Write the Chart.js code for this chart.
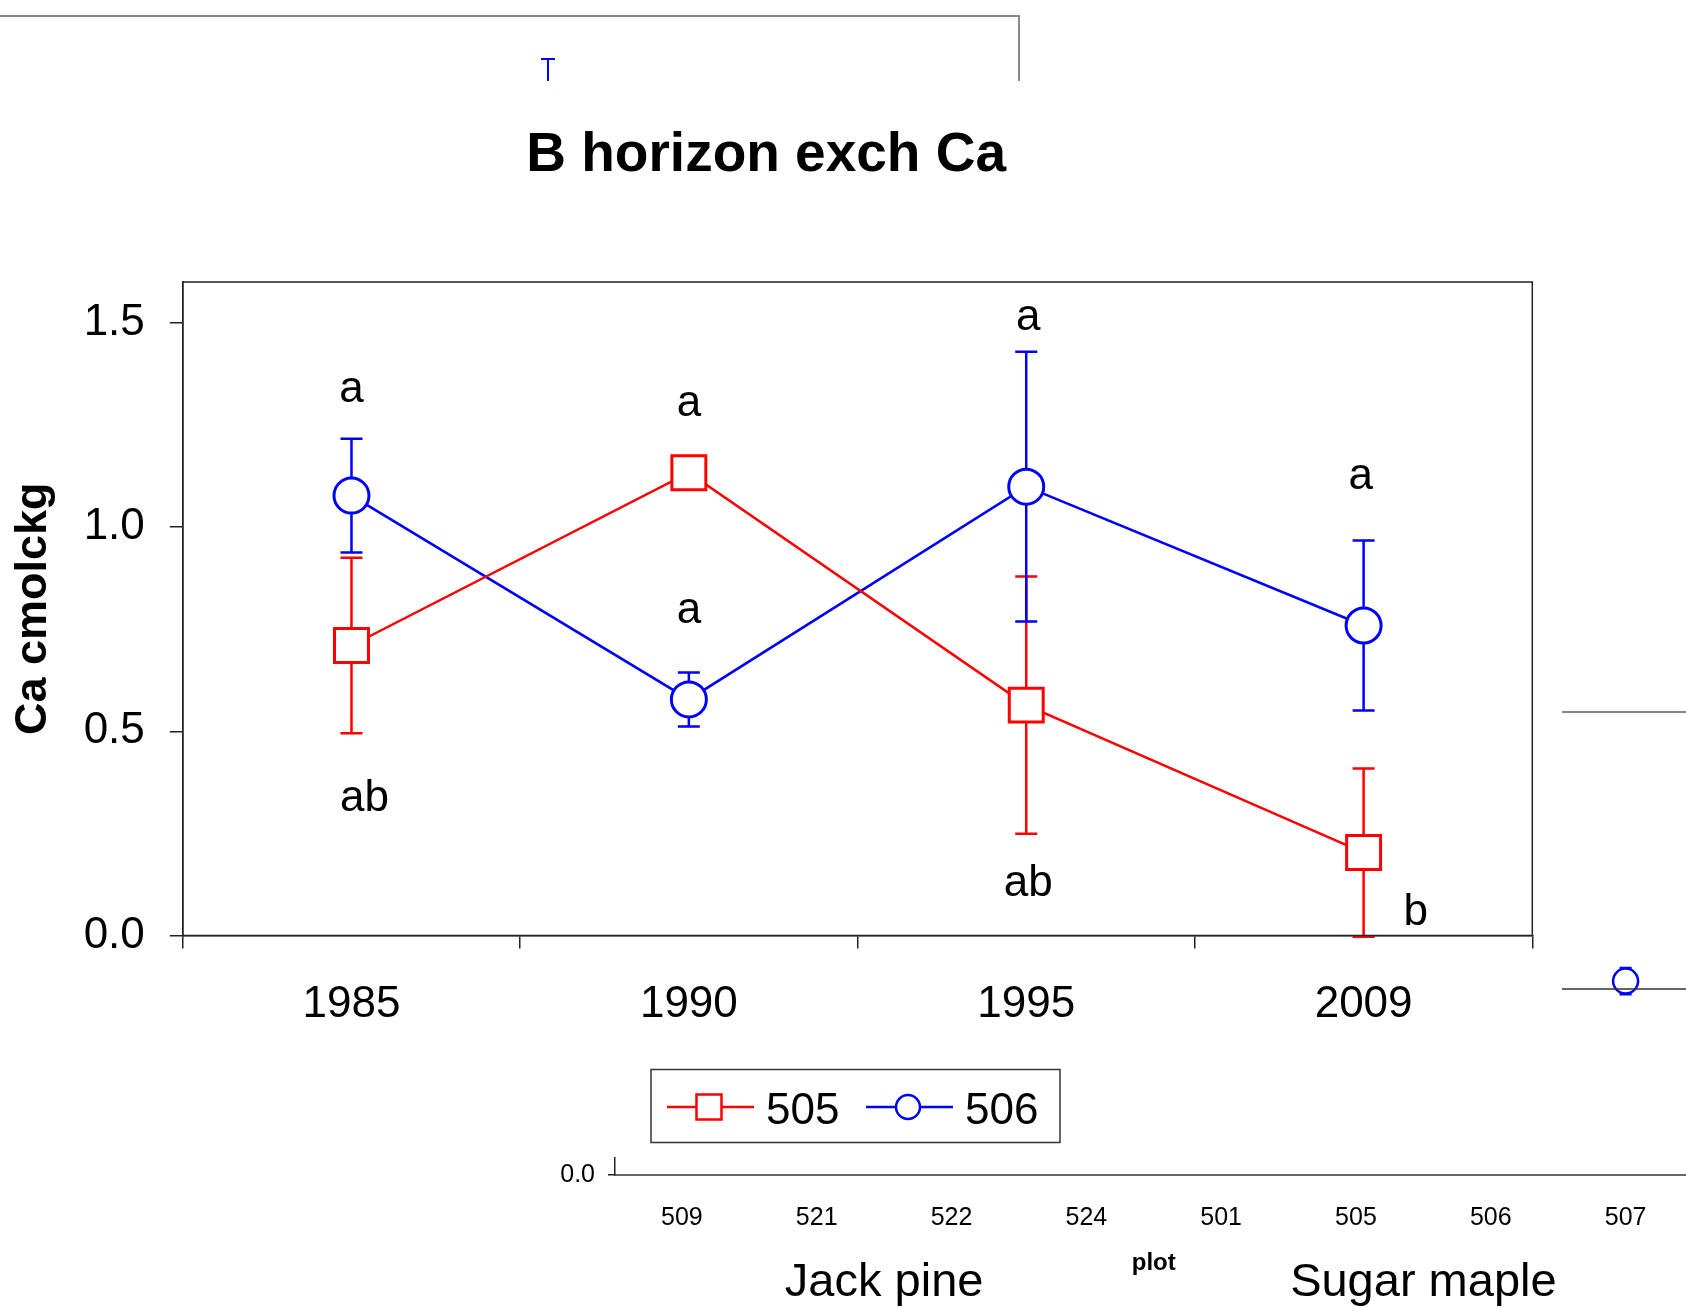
<!DOCTYPE html>
<html>
<head>
<meta charset="utf-8">
<script src="https://cdn.jsdelivr.net/npm/chart.js@4.4.1/dist/chart.umd.min.js"></script>
<style>
  html, body { margin: 0; padding: 0; background: #fff; overflow: hidden; }
  #wrap { position: relative; width: 1686px; height: 1308px; overflow: hidden; }
  #back, #main { position: absolute; left: 0; top: 0; }
</style>
</head>
<body>
<div id="wrap">
  <canvas id="back" width="1708" height="1308"></canvas>
  <canvas id="main" width="1686" height="1308"></canvas>
</div>
<script>
// B horizon exchangeable Ca, plots 505 and 506 (mean +/- error)
const years = ['1985', '1990', '1995', '2009'];
const ca505 = [0.710, 1.133, 0.564, 0.203];
const err505 = [0.215, 0.03, 0.315, 0.206];
const ca506 = [1.077, 0.578, 1.099, 0.759];
const err506 = [0.139, 0.066, 0.330, 0.208];
const yTicks = [0, 0.5, 1.0, 1.5];

// significance letters: year, text, value at the text baseline
const letterYears = ['1985', '1985', '1990', '1990', '1995', '1995', '2009', '2009'];
const letterTexts = ['a', 'ab', 'a', 'a', 'a', 'ab', 'a', 'b'];
const letterValues = [1.305, 0.306, 1.271, 0.765, 1.483, 0.096, 1.092, 0.026];

// figure lying underneath, only partly visible
const plotIds = ['509', '521', '522', '524', '501', '505', '506', '507'];
const forestTypes = ['Jack pine', 'Sugar maple'];
const behind506 = [null, null, null, null, null, null, null, 0.670];
const behindErr506 = [null, null, null, null, null, null, null, 0.045];
const behindTicks = [0, 0.5, 1.0, 1.5];

const FONT = '"Liberation Sans", Arial, Helvetica, sans-serif';
const RED = '#ff0000';
const BLUE = '#0000ff';
const AXIS = '#222';

Chart.defaults.font.family = FONT;
Chart.defaults.color = '#000';

// horizontal offsets of the letters, px
const letterDx = [0, 13, 0, 0, 2, 2, -3, 52];

// error bars behind the markers
const errorBars = {
  id: 'errorBars',
  beforeDatasetsDraw(chart) {
    const { ctx, scales: { x, y } } = chart;
    ctx.save();
    ctx.lineWidth = 2.5;
    chart.data.datasets.forEach(ds => {
      if (!ds.errors) return;
      ctx.strokeStyle = ds.borderColor;
      ds.data.forEach((v, j) => {
        const e = ds.errors[j];
        if (v == null || e == null) return;
        const px = x.getPixelForValue(j);
        const top = y.getPixelForValue(v + e);
        const bot = y.getPixelForValue(v - e);
        const cap = ds.capHalf || 11;
        ctx.beginPath();
        ctx.moveTo(px, top); ctx.lineTo(px, bot);
        ctx.moveTo(px - cap, top); ctx.lineTo(px + cap, top);
        ctx.moveTo(px - cap, bot); ctx.lineTo(px + cap, bot);
        ctx.stroke();
      });
    });
    ctx.restore();
  }
};

// white sheet of the main figure, frame, letters, legend
const mainDecor = {
  id: 'mainDecor',
  beforeDraw(chart) {
    const { ctx } = chart;
    ctx.save();
    ctx.fillStyle = '#fff';
    ctx.fillRect(0, 81, 1562, 1157 - 81);
    ctx.restore();
  },
  afterDraw(chart) {
    const { ctx, chartArea: a, scales: { x, y } } = chart;
    ctx.save();
    ctx.strokeStyle = AXIS;
    ctx.lineWidth = 1.5;
    ctx.strokeRect(a.left, a.top, a.right - a.left, a.bottom - a.top);

    ctx.fillStyle = '#000';
    ctx.font = '44px ' + FONT;
    ctx.textAlign = 'center';
    ctx.textBaseline = 'alphabetic';
    letterTexts.forEach((t, i) => {
      const px = x.getPixelForValue(years.indexOf(letterYears[i])) + letterDx[i];
      ctx.fillText(t, px, y.getPixelForValue(letterValues[i]));
    });

    // legend
    ctx.strokeStyle = '#333';
    ctx.lineWidth = 1.5;
    ctx.strokeRect(651, 1069.5, 409, 73);
    const starts = [667, 866];
    const cy = 1107;
    chart.data.datasets.forEach((ds, i) => {
      const x0 = starts[i];
      ctx.strokeStyle = ds.borderColor;
      ctx.lineWidth = 2.5;
      ctx.beginPath();
      ctx.moveTo(x0, cy); ctx.lineTo(x0 + 87, cy);
      ctx.stroke();
      const mx = x0 + 42;
      ctx.fillStyle = '#fff';
      ctx.beginPath();
      if (ds.pointStyle === 'rect') ctx.rect(mx - 12.5, cy - 12.5, 25, 25);
      else ctx.arc(mx, cy, 12, 0, Math.PI * 2);
      ctx.fill();
      ctx.stroke();
      ctx.fillStyle = '#000';
      ctx.font = '44px ' + FONT;
      ctx.textAlign = 'left';
      ctx.fillText(ds.label, x0 + 99, 1124);
    });
    ctx.restore();
  }
};

// frame pieces of the surrounding figures
const backDecor = {
  id: 'backDecor',
  afterDraw(chart) {
    const { ctx, chartArea: a } = chart;
    ctx.save();
    ctx.strokeStyle = '#888';
    ctx.lineWidth = 2;
    ctx.beginPath();
    ctx.moveTo(0, 16); ctx.lineTo(1019, 16); ctx.lineTo(1019, 82);
    ctx.moveTo(a.left, a.top); ctx.lineTo(a.right, a.top);
    ctx.stroke();
    ctx.strokeStyle = '#333';
    ctx.lineWidth = 1.5;
    ctx.beginPath();
    ctx.moveTo(a.left, 989); ctx.lineTo(a.right, 989);
    ctx.stroke();
    ctx.strokeStyle = BLUE;
    ctx.lineWidth = 2;
    ctx.beginPath();
    ctx.moveTo(541, 59); ctx.lineTo(555, 59);
    ctx.moveTo(548, 59); ctx.lineTo(548, 82);
    ctx.stroke();
    ctx.restore();
  }
};

new Chart(document.getElementById('back'), {
  type: 'line',
  data: {
    labels: plotIds,
    datasets: [{
      label: '506',
      data: behind506,
      errors: behindErr506,
      capHalf: 6,
      borderColor: BLUE,
      borderWidth: 2.5,
      pointStyle: 'circle',
      pointRadius: 12.5,
      pointBorderWidth: 2.5,
      pointBackgroundColor: '#fff',
      pointBorderColor: BLUE
    }]
  },
  options: {
    responsive: false,
    animation: false,
    devicePixelRatio: 1,
    events: [],
    layout: { padding: { left: 0, right: 0, top: 712, bottom: 0 } },
    plugins: { legend: { display: false }, tooltip: { enabled: false } },
    scales: {
      x: {
        type: 'category',
        offset: true,
        weight: 0,
        grid: { display: false },
        border: { display: true, color: '#666', width: 2 },
        ticks: { font: { size: 25 }, color: '#000', padding: 20, maxRotation: 0, autoSkip: false },
        title: { display: true, text: 'plot', font: { size: 24, weight: 'bold' }, color: '#000', padding: { top: 0, bottom: -18 } },
        afterFit(s) { s.height = 85; }
      },
      x2: {
        type: 'category',
        labels: forestTypes,
        position: 'bottom',
        offset: true,
        weight: 1,
        grid: { display: false },
        border: { display: false },
        ticks: { font: { size: 47 }, color: '#000', padding: -13.5, maxRotation: 0, autoSkip: false },
        afterFit(s) { s.height = 48; }
      },
      y: {
        min: 0,
        max: 1.6,
        afterBuildTicks(s) { s.ticks = behindTicks.map(v => ({ value: v })); },
        grid: { drawOnChartArea: false, tickLength: 6.5, color: AXIS, lineWidth: 1.5 },
        border: { display: true, color: AXIS, width: 1.5 },
        ticks: { font: { size: 25 }, color: '#000', padding: 13, callback: v => v.toFixed(1) },
        afterFit(s) { s.width = 614.5; }
      }
    }
  },
  plugins: [errorBars, backDecor]
});

new Chart(document.getElementById('main'), {
  type: 'line',
  data: {
    labels: years,
    datasets: [
      {
        label: '505',
        data: ca505,
        errors: err505,
        borderColor: RED,
        borderWidth: 2.5,
        pointStyle: 'rect',
        pointRadius: 24,
        pointBorderWidth: 3,
        pointBackgroundColor: '#fff',
        pointBorderColor: RED
      },
      {
        label: '506',
        data: ca506,
        errors: err506,
        borderColor: BLUE,
        borderWidth: 2.5,
        pointStyle: 'circle',
        pointRadius: 17.5,
        pointBorderWidth: 3,
        pointBackgroundColor: '#fff',
        pointBorderColor: BLUE
      }
    ]
  },
  options: {
    responsive: false,
    animation: false,
    devicePixelRatio: 1,
    events: [],
    layout: { padding: { left: 0, right: 153.7, top: 0, bottom: 0 } },
    plugins: {
      legend: { display: false },
      tooltip: { enabled: false },
      title: {
        display: true,
        text: 'B horizon exch Ca',
        color: '#000',
        font: { size: 55, weight: 'bold' },
        padding: { top: 123, bottom: 93 }
      }
    },
    scales: {
      x: {
        type: 'category',
        offset: true,
        grid: { display: true, offset: true, drawOnChartArea: false, tickLength: 13, color: AXIS, lineWidth: 1.5 },
        border: { display: true, color: AXIS, width: 1.5 },
        ticks: { font: { size: 44 }, color: '#000', padding: 30, maxRotation: 0, autoSkip: false },
        afterFit(s) { s.height = 372.5; }
      },
      y: {
        min: 0,
        max: 1.6,
        afterBuildTicks(s) { s.ticks = yTicks.map(v => ({ value: v })); },
        grid: { drawOnChartArea: false, tickLength: 13, color: AXIS, lineWidth: 1.5 },
        border: { display: true, color: AXIS, width: 1.5 },
        ticks: { font: { size: 44 }, color: '#000', padding: 25, callback: v => v.toFixed(1) },
        title: { display: true, text: 'Ca cmolckg', color: '#000', font: { size: 45, weight: 'bold' }, padding: { top: 6.5, bottom: 0 } },
        afterFit(s) { s.width = 182.8; }
      }
    }
  },
  plugins: [errorBars, mainDecor]
});
</script>
</body>
</html>
